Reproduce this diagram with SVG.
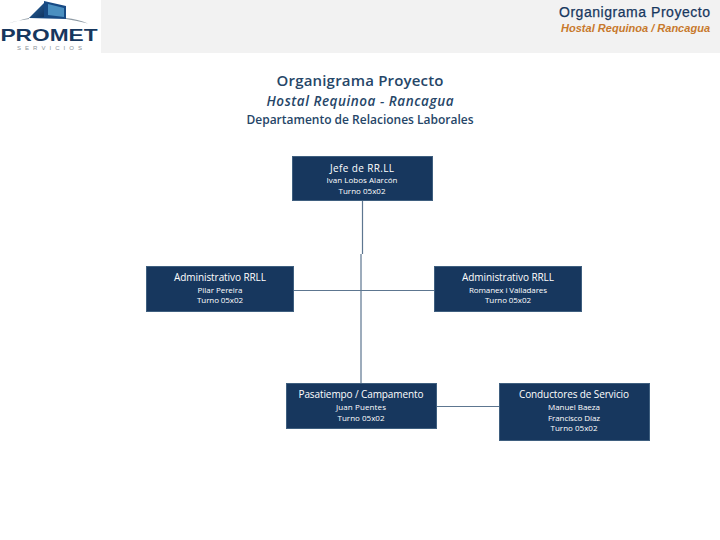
<svg xmlns="http://www.w3.org/2000/svg" width="720" height="540" viewBox="0 0 720 540">
<defs>
<linearGradient id="bld" x1="0" y1="0" x2="1" y2="1"><stop offset="0" stop-color="#2a6aa8"/><stop offset="1" stop-color="#0f2f58"/></linearGradient>
</defs>
<style>
text{font-family:"Open Sans","Noto Sans",sans-serif;text-anchor:middle}
.box{fill:#17375e;stroke:#3f5f7f;stroke-width:1}
.t{fill:#fff;font-size:10px}
.s{fill:#fff;font-size:8px}
.c{fill:none;stroke:#5d7690;stroke-width:1.2}
.h{fill:#264668;font-weight:600}
</style>
<rect x="0" y="0" width="720" height="540" fill="#fff"/>
<g id="header">
<rect x="101" y="0" width="619" height="53" fill="#f2f2f2"/>
<text x="710" y="17" style="text-anchor:end;font-family:'Liberation Sans',sans-serif;font-size:14px;fill:#17375e" stroke="#17375e" stroke-width="0.25" textLength="151">Organigrama Proyecto</text>
<text x="710" y="32" style="text-anchor:end;font-family:'Liberation Sans',sans-serif;font-size:11px;font-style:italic;font-weight:700;fill:#c8792c" textLength="149">Hostal Requinoa / Rancagua</text>
</g>
<g id="logo">
<path d="M8 23.500Q20 20 29 18L29 19Q18 20 8 23.500ZM66 18Q78 19 88 23.500Q78 21 66 19Z" fill="#8f9ba5"/>
<path d="M29 18L45 2L46 18Z" fill="url(#bld)"/>
<path d="M44 1L66 6L66 19L29 18L44 17Z" fill="#174a84"/>
<path d="M48 4L64 8L64 17L48 15Z" fill="#4a8fc0"/>
<text x="49" y="41" style="font-family:'Liberation Sans',sans-serif;font-weight:700;font-size:17px;fill:#17375e" textLength="97" lengthAdjust="spacingAndGlyphs">PROMET</text>
<text x="49.500" y="50" style="font-family:'Liberation Sans',sans-serif;font-size:6px;fill:#8a929a" textLength="65">SERVICIOS</text>
</g>
<g id="title">
<text class="h" x="360" y="86" font-size="15px" textLength="167">Organigrama Proyecto</text>
<text class="h" x="360" y="106" font-size="13.500px" font-style="italic" textLength="187">Hostal Requinoa - Rancagua</text>
<text class="h" x="360" y="124" font-size="12px" textLength="227">Departamento de Relaciones Laborales</text>
</g>
<g id="connectors">
<path class="c" d="M362.500 201V254M361 254V383M294 290.500H437M437 406.500H499"/>
</g>
<g id="n1">
<rect class="box" x="292.500" y="156.500" width="140" height="44"/>
<text class="t" x="362" y="172" textLength="64">Jefe de RR.LL</text>
<text class="s" x="362" y="183" textLength="71">Ivan Lobos Alarcón</text>
<text class="s" x="362" y="194" textLength="47">Turno 05x02</text>
</g>
<g id="n2">
<rect class="box" x="146.500" y="266.500" width="147" height="45"/>
<text class="t" x="220" y="281" textLength="92">Administrativo RRLL</text>
<text class="s" x="220" y="293" textLength="45">Pilar Pereira</text>
<text class="s" x="220" y="303" textLength="46">Turno 05x02</text>
</g>
<g id="n3">
<rect class="box" x="434.500" y="266.500" width="147" height="45"/>
<text class="t" x="508" y="281" textLength="92">Administrativo RRLL</text>
<text class="s" x="508" y="293" textLength="78">Romanex i Valladares</text>
<text class="s" x="508" y="303" textLength="46">Turno 05x02</text>
</g>
<g id="n4">
<rect class="box" x="286.500" y="383.500" width="150" height="45"/>
<text class="t" x="361" y="398" textLength="125">Pasatiempo / Campamento</text>
<text class="s" x="361" y="410" textLength="50">Juan Puentes</text>
<text class="s" x="361" y="421" textLength="47">Turno 05x02</text>
</g>
<g id="n5">
<rect class="box" x="499.500" y="383.500" width="150" height="57"/>
<text class="t" x="574" y="398" textLength="110">Conductores de Servicio</text>
<text class="s" x="574" y="410" textLength="52">Manuel Baeza</text>
<text class="s" x="574" y="421" textLength="52">Francisco Díaz</text>
<text class="s" x="574" y="431" textLength="47">Turno 05x02</text>
</g>
</svg>
